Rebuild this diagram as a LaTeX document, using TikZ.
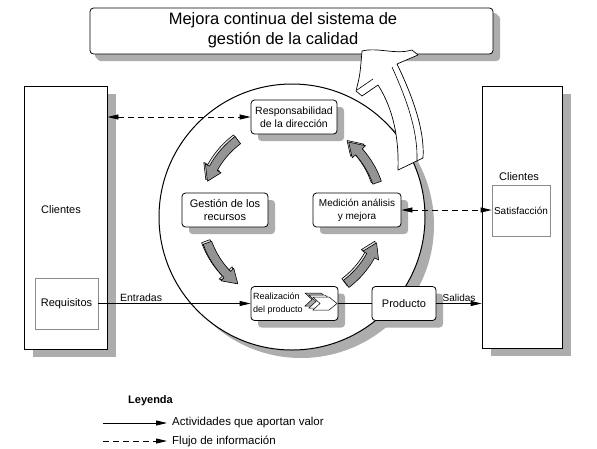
\documentclass[tikz,border=0pt]{standalone}
\usepackage{fontspec}
\setmainfont{Liberation Sans}
\usetikzlibrary{arrows.meta,shadows}
\newcommand\fsz[2]{\fontsize{#1}{#2}\selectfont}
\newcommand\cycarrow[2]{%
  \pgfmathsetmacro\cycb{#2-9}%
  \foreach \sx/\sy/\fc in {-1.6/-1.6/black!10, 0/0/black!42}{%
  \draw[line width=0.6pt, line join=round, fill=\fc, shift={(\sx,\sy)}]
    plot[domain=#1:\cycb, samples=15] ({292+94.5*cos(\x)},{212-94.5*sin(\x)})
    -- ({292+99*cos(\cycb)},{212-99*sin(\cycb)})
    -- ({292+90*cos(#2)},{212-90*sin(#2)})
    -- ({292+81*cos(\cycb)},{212-81*sin(\cycb)})
    -- plot[domain=\cycb:#1, samples=15] ({292+85.5*cos(\x)},{212-85.5*sin(\x)})
    -- cycle;}%
}
\begin{document}
\begin{tikzpicture}[x=1pt,y=-1pt,
  rbox/.style={draw, line width=0.8pt, fill=white, rounded corners=3.5pt, inner sep=0pt,
    drop shadow={shadow xshift=7pt, shadow yshift=-7pt, fill=black!32, opacity=1}},
  cbox/.style={draw, line width=0.8pt, fill=white, inner sep=0pt,
    drop shadow={shadow xshift=9pt, shadow yshift=-8pt, fill=black!32, opacity=1}},
  gbox/.style={draw=black!45, line width=0.8pt, fill=white, inner sep=0pt},
  lbl/.style={inner sep=0pt, align=center},
  flow/.style={line width=0.8pt, -{Triangle[length=11pt,width=5pt]}},
  info/.style={line width=0.8pt, dash pattern=on 6pt off 4pt,
    {Triangle[length=11pt,width=5pt]}-{Triangle[length=11pt,width=5pt]}},
  chev/.style={draw, line width=0.5pt, line join=miter},
]
\useasboundingbox (0,0) rectangle (597,448);
\fill[white] (0,0) rectangle (597,448);

% title
\node[rbox, minimum width=403pt, minimum height=46pt,
  drop shadow={shadow xshift=5pt, shadow yshift=-5pt, fill=black!32, opacity=1}] (title) at (291.5,31) {};
\node[lbl, font=\fsz{16.5}{20}] (titletxt) at (283,30) {Mejora continua del sistema de\\gestión de la calidad};

% clients
\node[cbox, minimum width=83pt, minimum height=263pt] (cliL) at (65.5,217.5) {};
\node[lbl, font=\fsz{11}{13}] (cliLt) at (61,210) {Clientes};
\node[gbox, minimum width=63pt, minimum height=51pt, font=\fsz{11}{13}] (req) at (66.5,304) {Requisitos};

\node[cbox, minimum width=80pt, minimum height=262pt] (cliR) at (522,217) {};
\node[lbl, font=\fsz{11}{13}] (cliRt) at (519,177) {Clientes};
\node[gbox, minimum width=58pt, minimum height=51pt, font=\fsz{10}{12}] (sat) at (521,211) {Satisfacción};

% circle
\node[circle, draw, line width=1pt, fill=white, minimum size=266pt, inner sep=0pt,
  drop shadow={shadow xshift=9pt, shadow yshift=-8pt, fill=black!32, opacity=1}] (cyc) at (292,217) {};

% process boxes
\node[rbox, minimum width=86pt, minimum height=34pt, font=\fsz{10.5}{12.5}, align=center] (resp) at (294,117) {Responsabilidad\\de la dirección};
\node[rbox, minimum width=86pt, minimum height=34pt, font=\fsz{11}{13}, align=center] (gest) at (225,210) {Gestión de los\\recursos};
\node[rbox, minimum width=88pt, minimum height=34pt, font=\fsz{10}{13}, align=center] (med) at (357,210) {Medición análisis\\y mejora};
\node[rbox, minimum width=87pt, minimum height=34pt] (real) at (294.5,303.5) {};
\node[lbl, anchor=west, align=left, font=\fsz{9}{13}] (realt) at (253,304) {Realización\\del producto};
\node[rbox, minimum width=64pt, minimum height=34pt, font=\fsz{11}{13}] (prod) at (404,303.5) {Producto};

% chevrons
\draw[chev, fill=black!35] (305,293) -- ++(16,0) -- ++(8,6.5) -- ++(-8,6.5) -- ++(-16,0) -- ++(7,-6.5) -- cycle;
\draw[chev, fill=white] (309,295) -- ++(16,0) -- ++(8,6.5) -- ++(-8,6.5) -- ++(-16,0) -- ++(7,-6.5) -- cycle;
\draw[chev, fill=white] (313,297) -- ++(16,0) -- ++(8,6.5) -- ++(-8,6.5) -- ++(-16,0) -- ++(7,-6.5) -- cycle;

% cycle arrows
\cycarrow{127}{160}
\cycarrow{200}{233}
\cycarrow{307}{340}
\cycarrow{19}{51}

% big improvement arrow
\draw[line width=0.7pt, fill=white, line join=round]
  (362,51) .. controls (378,47) and (395,55) .. (412,50)
  -- (418,55) -- (397,64)
  .. controls (412,95) and (425,130) .. (423,158)
  -- (398,170)
  .. controls (399,140) and (394,110) .. (378,85)
  -- (362,96) -- (356,91)
  .. controls (360,75) .. (362,51) -- cycle;
\draw[line width=0.6pt] (392,67) .. controls (406,98) and (418,130) .. (417,161);
\draw[line width=0.6pt] (357,90) -- (373,79);

% connectors
\draw[info] (cliL.east |- resp.west) -- (resp.west);
\draw[info] (med.east) -- (sat.west |- med.east);
\draw[flow] (req.east |- real.west) -- node[above, pos=0.28, inner sep=1.5pt, font=\fsz{10.5}{12}] {Entradas} (real.west);
\draw[line width=0.8pt] (real.east) -- (prod.west);
\draw[flow] (prod.east) -- node[above, inner sep=1.5pt, font=\fsz{10}{12}] {Salidas} (cliR.west |- prod.east);

% legend
\node[anchor=west, font=\bfseries\fsz{11}{13}, inner sep=0pt] (leg) at (128,401) {Leyenda};
\coordinate (s1) at (103,423); \coordinate (e1) at (167,423);
\coordinate (s2) at (103,441); \coordinate (e2) at (167,441);
\draw[flow] (s1) -- (e1);
\draw[line width=0.8pt, dash pattern=on 6pt off 4pt, -{Triangle[length=11pt,width=5pt]}] (s2) -- (e2);
\node[anchor=west, font=\fsz{11.5}{13}, inner sep=0pt] (l1) at (172,423) {Actividades que aportan valor};
\node[anchor=west, font=\fsz{11.5}{13}, inner sep=0pt] (l2) at (172,441) {Flujo de información};
\end{tikzpicture}
\end{document}
